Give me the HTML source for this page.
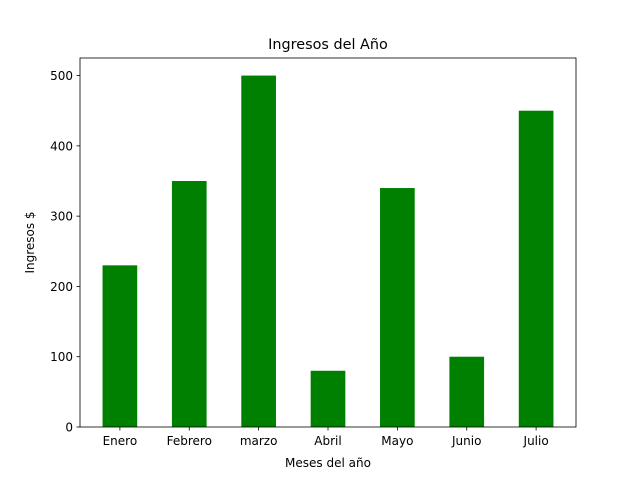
<!DOCTYPE html>
<html><head><meta charset="utf-8"><style>
body{margin:0;background:#fff;}
svg text{font-family:"DejaVu Sans","Liberation Sans",sans-serif;fill:#000;}
</style></head><body>
<svg id="chart" width="640" height="480" xmlns="http://www.w3.org/2000/svg">
<rect width="640" height="480" fill="#fff"/>
<g id="bars"></g>
<g id="axes"></g>
<text x="328" y="49" font-size="14.4" text-anchor="middle">Ingresos del Año</text>
<text x="328" y="467" font-size="12" text-anchor="middle">Meses del año</text>
<text transform="translate(34,242.5) rotate(-90)" font-size="12" text-anchor="middle">Ingresos $</text>
</svg>
<script>
const categories = ["Enero","Febrero","marzo","Abril","Mayo","Junio","Julio"];
const values = [230,350,500,80,340,100,450];
const yTicks = [0,100,200,300,400,500];

const L=80,R=576,T=58,B=427;
const xMin=-0.575,xMax=categories.length-1+0.575;
const yMax=Math.max(...values)*1.05;
const xs=i=>L+(i-xMin)/(xMax-xMin)*(R-L);
const ys=v=>B-v/yMax*(B-T);
const NS="http://www.w3.org/2000/svg";
const bars=document.getElementById('bars'),axes=document.getElementById('axes');
function mk(tag,attrs,parent){const e=document.createElementNS(NS,tag);for(const k in attrs)e.setAttribute(k,attrs[k]);parent.appendChild(e);return e;}
const bw=0.5*(R-L)/(xMax-xMin);
values.forEach((v,i)=>{
  const r=mk('rect',{x:xs(i)-bw/2,y:ys(v),width:bw,height:B-ys(v),fill:'#008000'},bars);
  
  
});
const frame=mk('rect',{x:L,y:T,width:R-L,height:B-T,fill:'none',stroke:'#000','stroke-width':0.8},axes);


categories.forEach((c,i)=>{
  mk('line',{x1:xs(i),x2:xs(i),y1:B,y2:B+3.5,stroke:'#000','stroke-width':0.8},axes);
  const t=mk('text',{x:xs(i),y:B+18,'font-size':12,'text-anchor':'middle'},axes);
  t.textContent=c;
  
  
});
yTicks.forEach(v=>{
  mk('line',{x1:L-3.5,x2:L,y1:ys(v),y2:ys(v),stroke:'#000','stroke-width':0.8},axes);
  const t=mk('text',{x:L-7,y:ys(v)+4.5,'font-size':12,'text-anchor':'end'},axes);
  t.textContent=v;
  
  
});
</script>
</body></html>
